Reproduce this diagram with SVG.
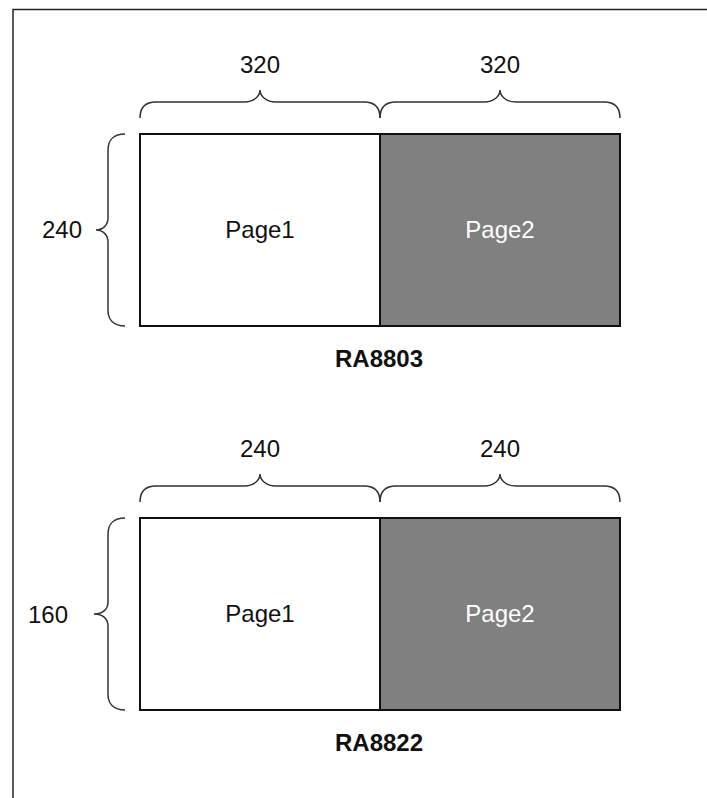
<svg xmlns="http://www.w3.org/2000/svg" width="707" height="798" viewBox="0 0 707 798">
<style>
.t{font-family:"Liberation Sans",Arial,sans-serif;font-size:24px;fill:#111;text-anchor:middle}
.b{font-weight:bold}
.w{fill:#fff}
.br{fill:none;stroke:#333;stroke-width:1.5}
.pg{stroke:#111;stroke-width:2}
</style>
<rect width="707" height="798" fill="#fff"/>
<rect x="13" y="9.5" width="800" height="900" fill="none" stroke="#222" stroke-width="1.5"/>
<g id="ra8803">
  <g id="p1a"><rect class="pg" x="140" y="134" width="240" height="192" fill="#fff"/><text class="t" x="260" y="238">Page1</text></g>
  <g id="p2a"><rect class="pg" x="380" y="134" width="240" height="192" fill="#808080"/><text class="t w" x="500" y="238">Page2</text></g>
  <text class="t b" x="379" y="367">RA8803</text>
</g>
<g id="ra8822">
  <g id="p1b"><rect class="pg" x="140" y="518" width="240" height="192" fill="#fff"/><text class="t" x="260" y="622">Page1</text></g>
  <g id="p2b"><rect class="pg" x="380" y="518" width="240" height="192" fill="#808080"/><text class="t w" x="500" y="622">Page2</text></g>
  <text class="t b" x="379" y="751">RA8822</text>
</g>
<g id="dims">
  <path class="br" d="M140,118 C140,107 146,102 156,102 L244,102 C254,102 260,96 260,90 C260,96 266,102 276,102 L364,102 C374,102 380,107 380,118"/>
  <path class="br" d="M380,118 C380,107 386,102 396,102 L484,102 C494,102 500,96 500,90 C500,96 506,102 516,102 L604,102 C614,102 620,107 620,118"/>
  <path class="br" d="M125,134 C114,134 108,140 108,150 L108,218 C108,225 103,230 96,230 C103,230 108,235 108,242 L108,310 C108,320 114,326 125,326"/>
  <text class="t" x="260" y="73">320</text>
  <text class="t" x="500" y="73">320</text>
  <text class="t" x="62" y="238">240</text>
  <path class="br" d="M140,502 C140,491 146,486 156,486 L244,486 C254,486 260,480 260,474 C260,480 266,486 276,486 L364,486 C374,486 380,491 380,502"/>
  <path class="br" d="M380,502 C380,491 386,486 396,486 L484,486 C494,486 500,480 500,474 C500,480 506,486 516,486 L604,486 C614,486 620,491 620,502"/>
  <path class="br" d="M125,518 C114,518 108,524 108,534 L108,602 C108,609 103,614 94,614 C103,614 108,619 108,626 L108,694 C108,704 114,710 125,710"/>
  <text class="t" x="260" y="457">240</text>
  <text class="t" x="500" y="457">240</text>
  <text class="t" x="48" y="623">160</text>
</g>
</svg>
